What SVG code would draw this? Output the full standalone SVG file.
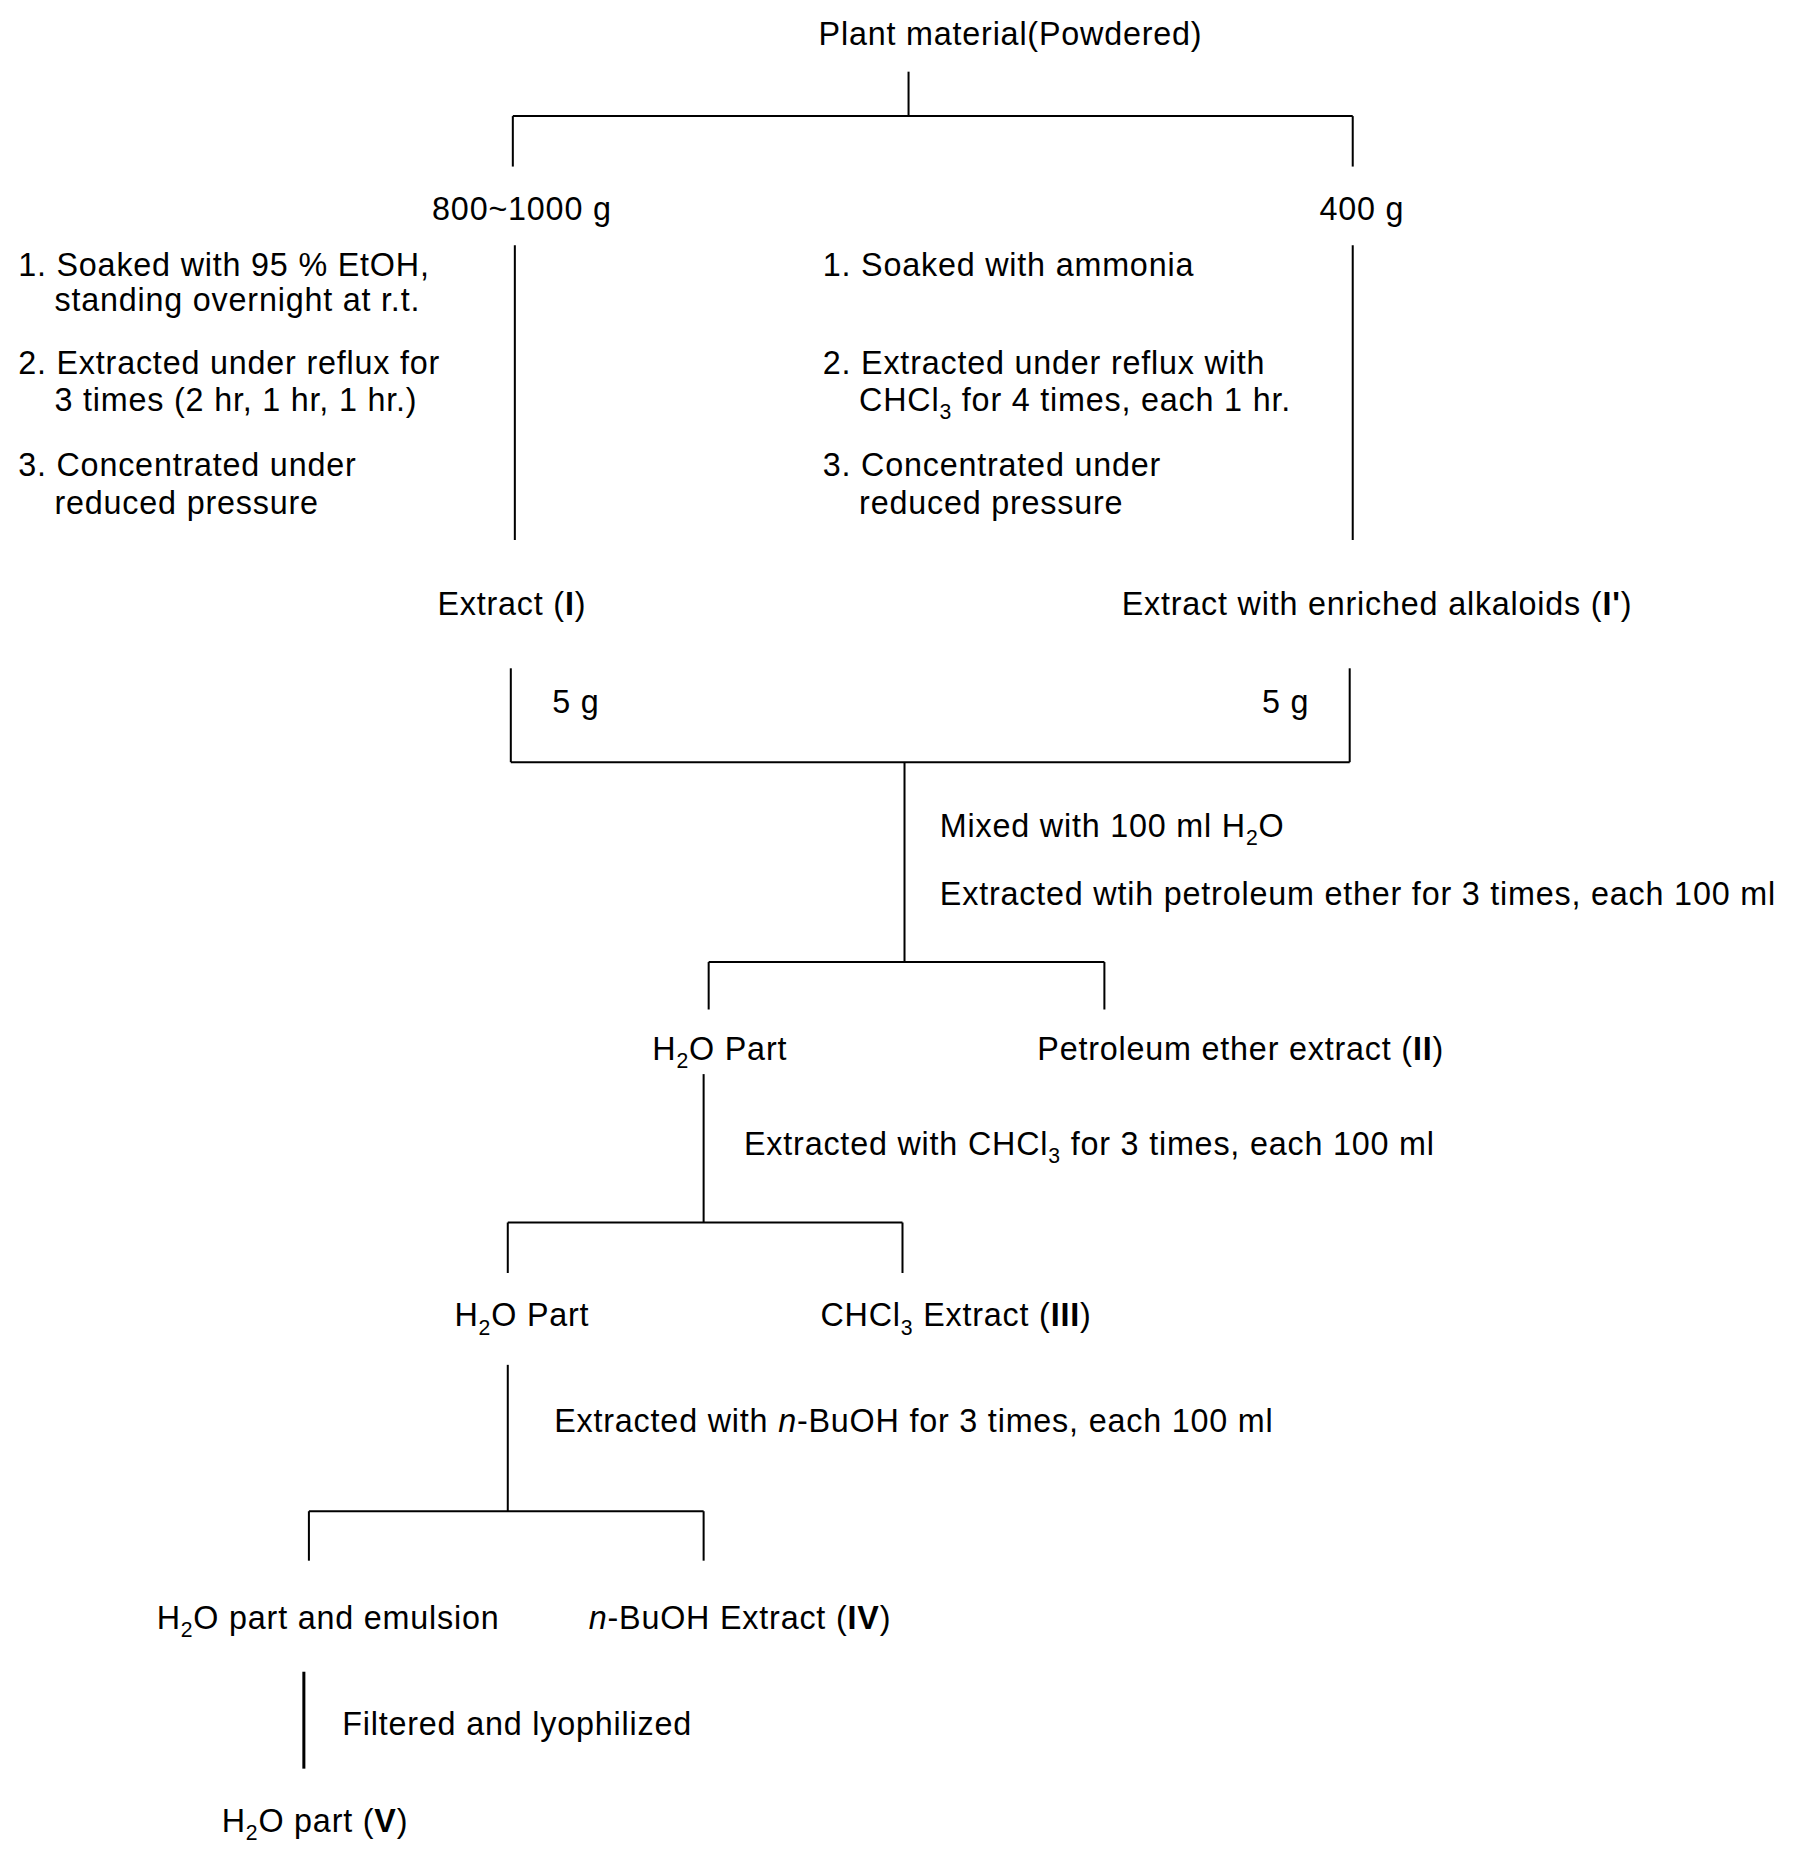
<svg xmlns="http://www.w3.org/2000/svg" width="1799" height="1862" viewBox="0 0 1799 1862">
<style>
text{font-family:"Liberation Sans",Arial,sans-serif;font-size:32px;letter-spacing:0.8px;fill:#000}
.m{text-anchor:middle}
.c line{stroke:#000;stroke-width:2}
</style>
<rect width="1799" height="1862" fill="#fff"/>
<g transform="scale(1.0095)">
<g class="c" id="connectors">
<line x1="900" y1="71" x2="900" y2="115"/>
<line x1="508" y1="115" x2="1340" y2="115"/>
<line x1="508" y1="115" x2="508" y2="165"/>
<line x1="1340" y1="115" x2="1340" y2="165"/>
<line x1="510" y1="243" x2="510" y2="535"/>
<line x1="1340" y1="243" x2="1340" y2="535"/>
<line x1="506" y1="662" x2="506" y2="755"/>
<line x1="1337" y1="662" x2="1337" y2="755"/>
<line x1="506" y1="755" x2="1337" y2="755"/>
<line x1="896" y1="755" x2="896" y2="953"/>
<line x1="702" y1="953" x2="1094" y2="953"/>
<line x1="702" y1="953" x2="702" y2="1000"/>
<line x1="1094" y1="953" x2="1094" y2="1000"/>
<line x1="697" y1="1064" x2="697" y2="1211"/>
<line x1="503" y1="1211" x2="894" y2="1211"/>
<line x1="503" y1="1211" x2="503" y2="1261"/>
<line x1="894" y1="1211" x2="894" y2="1261"/>
<line x1="503" y1="1352" x2="503" y2="1497"/>
<line x1="306" y1="1497" x2="697" y2="1497"/>
<line x1="306" y1="1497" x2="306" y2="1546"/>
<line x1="697" y1="1497" x2="697" y2="1546"/>
<line x1="301" y1="1656" x2="301" y2="1752" style="stroke-width:3"/>
</g>
<g id="n_plant"><text class="m" x="1001" y="45">Plant material(Powdered)</text></g>
<g id="n_800"><text class="m" x="517" y="218">800~1000 g</text></g>
<g id="n_400"><text class="m" x="1349" y="218">400 g</text></g>
<g id="steps_left">
<text x="18" y="273">1. Soaked with 95 % EtOH,</text>
<text x="54" y="308">standing overnight at r.t.</text>
<text x="18" y="370">2. Extracted under reflux for</text>
<text x="54" y="407">3 times (2 hr, 1 hr, 1 hr.)</text>
<text x="18" y="472">3. Concentrated under</text>
<text x="54" y="509">reduced pressure</text>
</g>
<g id="steps_right">
<text x="815" y="273">1. Soaked with ammonia</text>
<text x="815" y="370">2. Extracted under reflux with</text>
<text x="851" y="407">CHCl<tspan font-size="21" dy="8">3</tspan><tspan dy="-8"> for 4 times, each 1 hr.</tspan></text>
<text x="815" y="472">3. Concentrated under</text>
<text x="851" y="509">reduced pressure</text>
</g>
<g id="n_extractI"><text class="m" x="507" y="609">Extract (<tspan font-weight="bold">I</tspan>)</text></g>
<g id="n_extractI2"><text class="m" x="1364" y="609">Extract with enriched alkaloids (<tspan font-weight="bold">I'</tspan>)</text></g>
<text x="547" y="706">5 g</text>
<text x="1250" y="706">5 g</text>
<text x="931" y="829">Mixed with 100 ml H<tspan font-size="21" dy="8">2</tspan><tspan dy="-8">O</tspan></text>
<text x="931" y="896">Extracted wtih petroleum ether for 3 times, each 100 ml</text>
<g id="n_h2o1"><text class="m" x="713" y="1050">H<tspan font-size="21" dy="8">2</tspan><tspan dy="-8">O Part</tspan></text></g>
<g id="n_pe"><text class="m" x="1229" y="1050">Petroleum ether extract (<tspan font-weight="bold">II</tspan>)</text></g>
<text x="737" y="1144">Extracted with CHCl<tspan font-size="21" dy="8">3</tspan><tspan dy="-8"> for 3 times, each 100 ml</tspan></text>
<g id="n_h2o2"><text class="m" x="517" y="1314">H<tspan font-size="21" dy="8">2</tspan><tspan dy="-8">O Part</tspan></text></g>
<g id="n_chcl3"><text class="m" x="947" y="1314">CHCl<tspan font-size="21" dy="8">3</tspan><tspan dy="-8"> Extract (</tspan><tspan font-weight="bold">III</tspan>)</text></g>
<text x="549" y="1419">Extracted with <tspan font-style="italic">n</tspan>-BuOH for 3 times, each 100 ml</text>
<g id="n_h2o3"><text class="m" x="325" y="1614">H<tspan font-size="21" dy="8">2</tspan><tspan dy="-8">O part and emulsion</tspan></text></g>
<g id="n_buoh"><text class="m" x="733" y="1614"><tspan font-style="italic">n</tspan>-BuOH Extract (<tspan font-weight="bold">IV</tspan>)</text></g>
<text x="339" y="1719">Filtered and lyophilized</text>
<g id="n_h2oV"><text class="m" x="312" y="1815">H<tspan font-size="21" dy="8">2</tspan><tspan dy="-8">O part (</tspan><tspan font-weight="bold">V</tspan>)</text></g>
</g>
</svg>
